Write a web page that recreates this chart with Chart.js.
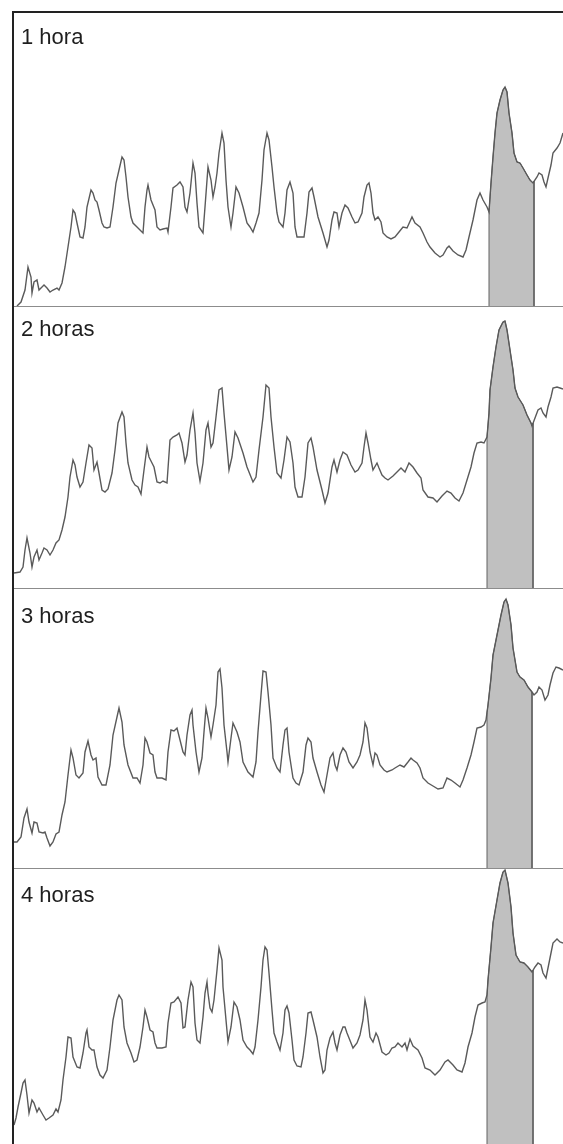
<!DOCTYPE html>
<html>
<head>
<meta charset="utf-8">
<script src="https://cdn.jsdelivr.net/npm/chart.js@4.4.1/dist/chart.umd.min.js"></script>
<style>
html, body { margin: 0; padding: 0; background: #fff; width: 563px; height: 1144px; overflow: hidden; }
.moldura-esq { position: absolute; left: 12px; top: 11px; width: 2px; height: 1200px; background: #222; }
.moldura-topo { position: absolute; left: 12px; top: 11px; width: 600px; height: 2px; background: #222; }
.divisor { position: absolute; left: 14px; width: 560px; height: 1px; background: #8c8c8c; }
canvas { position: absolute; left: 14px; }
.rotulo { position: absolute; left: 21px; font: 22px/22px "Liberation Sans", Arial, sans-serif; color: #1e1e1e; white-space: nowrap; }
</style>
</head>
<body>
<div class="moldura-esq"></div>
<div class="moldura-topo"></div>
<canvas id="g1" width="549" height="293" style="top:13px"></canvas>
<canvas id="g2" width="549" height="281" style="top:307px"></canvas>
<canvas id="g3" width="549" height="279" style="top:589px"></canvas>
<canvas id="g4" width="549" height="279" style="top:869px"></canvas>
<div class="divisor" style="top:306px"></div>
<div class="divisor" style="top:588px"></div>
<div class="divisor" style="top:868px"></div>
<script>
const titulos = ['1 hora', '2 horas', '3 horas', '4 horas'];

// [posição, valor]
const serie1h = [[3,0],[7,4],[11,16],[14,39],[17,29],[18,13],[20,24],[23,26],[25,16],[28,19],[30,21],[33,18],[36,14],[39,16],[43,18],[45,16],[48,23],[51,39],[54,59],[57,79],[59,96],[61,93],[63,83],[66,69],[69,68],[71,79],[73,99],[77,116],[79,113],[81,106],[83,104],[85,96],[88,83],[90,79],[93,78],[96,79],[99,99],[102,123],[105,136],[108,149],[110,146],[112,129],[114,109],[117,89],[119,83],[123,79],[126,76],[129,73],[131,99],[133,116],[134,121],[137,106],[139,101],[141,96],[143,79],[146,76],[149,77],[153,78],[154,74],[157,99],[159,118],[163,121],[166,124],[169,119],[171,99],[173,94],[176,113],[179,143],[181,133],[183,103],[185,79],[189,73],[191,99],[194,139],[197,126],[199,109],[201,119],[203,133],[205,153],[208,173],[210,163],[212,126],[214,99],[217,79],[219,93],[222,119],[225,113],[229,99],[233,83],[236,79],[239,74],[242,83],[245,93],[248,126],[250,156],[253,173],[255,166],[258,139],[260,119],[263,93],[265,84],[269,79],[271,93],[273,116],[276,124],[279,113],[281,79],[283,69],[288,69],[290,69],[293,93],[295,114],[298,118],[300,109],[304,89],[309,73],[313,59],[315,66],[318,86],[320,94],[323,93],[325,79],[328,93],[331,101],[334,98],[338,89],[341,83],[344,84],[348,93],[350,109],[353,121],[355,123],[357,113],[359,93],[361,86],[364,89],[367,84],[369,73],[373,69],[377,67],[381,69],[385,74],[389,79],[393,78],[398,89],[401,83],[406,79],[409,73],[413,64],[416,59],[421,53],[426,49],[429,51],[433,58],[435,60],[439,55],[444,51],[449,49],[452,56],[455,69],[459,86],[463,106],[466,113],[469,106],[473,99],[475,94],[477,123],[479,149],[481,173],[483,193],[486,206],[489,216],[491,219],[493,214],[495,193],[498,173],[500,153],[503,144],[506,143],[509,138],[513,131],[516,126],[519,123],[523,129],[525,133],[528,131],[530,124],[532,119],[534,128],[537,141],[539,153],[543,158],[546,163],[549,173]];

const serie2h = [[0,15],[6,16],[9,21],[11,38],[13,50],[16,35],[18,21],[20,31],[23,38],[25,28],[28,35],[30,40],[33,38],[36,33],[39,38],[42,45],[45,48],[48,58],[51,71],[54,91],[56,111],[59,128],[61,123],[63,111],[66,101],[69,106],[72,125],[75,143],[78,140],[80,118],[83,126],[85,115],[88,98],[91,96],[94,99],[98,115],[101,138],[104,165],[108,176],[110,171],[112,145],[114,125],[118,108],[121,103],[124,101],[127,94],[130,118],[133,141],[135,131],[138,125],[140,121],[143,106],[146,105],[149,107],[153,105],[156,148],[159,151],[163,153],[165,155],[168,145],[171,126],[173,133],[176,158],[179,175],[181,155],[183,125],[186,107],[189,125],[192,158],[194,165],[197,141],[199,145],[202,171],[205,198],[208,200],[210,175],[213,141],[215,118],[218,131],[221,156],[224,150],[229,135],[233,121],[237,111],[239,106],[242,111],[245,138],[249,171],[252,203],[255,200],[257,171],[260,141],[263,115],[267,110],[270,128],[273,151],[276,146],[279,125],[281,101],[284,91],[288,91],[291,111],[294,145],[297,150],[299,141],[303,118],[308,98],[311,85],[314,95],[318,121],[320,128],[323,116],[326,128],[329,136],[333,133],[337,123],[341,116],[344,118],[348,125],[350,141],[352,155],[354,145],[357,128],[359,118],[363,125],[365,120],[368,113],[371,110],[374,108],[379,112],[383,116],[387,120],[391,116],[395,125],[399,121],[403,115],[407,110],[409,98],[414,91],[419,90],[423,86],[428,92],[433,97],[437,95],[441,90],[445,87],[449,95],[453,108],[457,121],[460,135],[463,145],[467,146],[470,145],[473,151],[475,175],[476,198],[479,221],[482,241],[485,258],[489,266],[491,267],[493,258],[496,238],[499,218],[501,200],[504,191],[509,183],[513,173],[517,165],[518,162],[521,170],[524,178],[527,180],[529,175],[532,171],[534,181],[537,191],[539,200],[543,201],[546,200],[549,199]];

const serie3h = [[0,26],[3,26],[7,31],[10,50],[13,59],[15,46],[18,35],[20,46],[23,45],[25,36],[29,35],[31,36],[33,30],[36,22],[39,26],[42,34],[45,36],[48,53],[51,66],[54,93],[57,118],[59,110],[62,93],[65,90],[69,95],[71,116],[74,127],[77,113],[79,108],[82,110],[84,91],[88,83],[92,83],[96,103],[99,133],[103,151],[105,160],[108,146],[110,123],[114,103],[119,90],[123,90],[126,85],[129,103],[131,130],[133,126],[136,115],[139,113],[141,96],[143,90],[148,90],[152,88],[154,116],[157,138],[160,137],[163,140],[166,128],[169,116],[171,113],[173,133],[176,153],[178,158],[179,143],[182,116],[185,96],[188,110],[190,136],[192,160],[194,150],[197,131],[199,143],[202,163],[204,196],[206,199],[208,180],[210,143],[213,116],[214,106],[217,130],[219,145],[223,136],[226,126],[229,106],[234,96],[239,91],[242,106],[244,136],[247,173],[249,197],[252,196],[254,176],[257,143],[259,110],[263,100],[266,96],[269,123],[271,138],[273,140],[275,116],[279,90],[282,85],[285,83],[289,96],[292,123],[294,130],[297,126],[299,110],[303,96],[307,83],[310,76],[313,93],[316,110],[319,115],[321,103],[323,98],[326,113],[329,120],[332,116],[335,106],[339,100],[343,106],[346,113],[349,126],[351,145],[353,140],[356,116],[359,103],[361,115],[363,113],[366,103],[370,98],[373,96],[378,98],[381,100],[386,103],[390,101],[394,106],[397,110],[399,108],[403,105],[406,100],[409,90],[414,85],[419,82],[424,79],[429,80],[433,90],[437,88],[441,85],[446,81],[449,88],[453,100],[457,113],[460,126],[463,140],[467,141],[470,143],[472,148],[474,163],[477,190],[479,213],[483,233],[487,253],[490,266],[492,269],[494,263],[497,243],[499,220],[503,196],[506,191],[510,188],[514,181],[518,176],[520,173],[523,176],[525,181],[528,178],[531,168],[534,173],[536,183],[539,195],[542,201],[545,200],[549,198]];

const serie4h = [[0,23],[2,30],[4,41],[7,55],[9,65],[11,68],[13,53],[15,35],[18,48],[20,45],[23,36],[25,40],[29,33],[32,28],[35,30],[39,33],[42,39],[44,36],[47,48],[49,68],[52,91],[54,111],[57,110],[59,91],[63,81],[66,80],[69,95],[72,115],[73,118],[75,101],[78,98],[80,98],[83,81],[86,73],[89,70],[93,78],[96,101],[99,128],[103,148],[105,153],[108,148],[110,121],[113,105],[117,95],[120,86],[123,88],[126,101],[129,121],[131,138],[133,131],[136,118],[139,116],[141,105],[143,100],[148,100],[152,101],[154,125],[157,145],[160,146],[164,151],[167,145],[169,120],[171,121],[174,148],[177,166],[179,161],[181,125],[183,108],[186,105],[189,131],[191,155],[193,166],[194,155],[196,140],[198,136],[200,148],[203,178],[205,200],[208,188],[209,161],[212,128],[214,106],[217,121],[220,146],[223,141],[226,128],[229,108],[233,101],[236,98],[239,94],[241,101],[244,128],[247,161],[249,188],[251,201],[253,198],[255,175],[258,138],[260,115],[263,106],[266,98],[269,115],[271,138],[273,142],[275,135],[278,108],[280,88],[283,82],[287,81],[289,91],[292,115],[294,135],[297,136],[299,128],[303,111],[306,91],[309,75],[311,78],[313,98],[316,110],[319,116],[321,105],[323,98],[326,113],[329,121],[331,121],[333,115],[337,105],[339,100],[343,105],[346,113],[349,128],[351,148],[353,138],[356,111],[359,106],[362,115],[364,111],[368,96],[372,93],[375,95],[378,100],[381,101],[384,105],[388,101],[391,105],[393,98],[396,109],[399,102],[404,98],[408,90],[411,80],[416,78],[421,73],[426,78],[431,86],[434,88],[439,83],[443,78],[448,76],[451,85],[454,101],[458,115],[461,131],[464,143],[468,145],[471,146],[473,153],[474,168],[477,201],[479,225],[483,248],[486,265],[489,276],[491,278],[494,265],[497,241],[499,215],[502,193],[506,186],[510,185],[514,181],[518,176],[521,181],[524,185],[527,183],[529,175],[532,170],[534,180],[537,195],[539,205],[543,209],[546,206],[549,205]];

// início e fim da faixa sombreada de cada painel
const faixas = [[475, 520], [473, 519], [473, 518], [473, 519]];

const paineis = [
    { id: 'g1', serie: serie1h, maxY: 293, rotuloTopo: 26 },
    { id: 'g2', serie: serie2h, maxY: 281, rotuloTopo: 318 },
    { id: 'g3', serie: serie3h, maxY: 279, rotuloTopo: 605 },
    { id: 'g4', serie: serie4h, maxY: 279, rotuloTopo: 884 }
];

function valorEm(serie, x) {
    for (let i = 1; i < serie.length; i++) {
        const [x0, y0] = serie[i - 1];
        const [x1, y1] = serie[i];
        if (x >= x0 && x <= x1) {
            return x1 === x0 ? y1 : y0 + (y1 - y0) * (x - x0) / (x1 - x0);
        }
    }
    return 0;
}

paineis.forEach((p, i) => {
    const [ini, fim] = faixas[i];
    const linha = p.serie.map(d => ({ x: d[0], y: d[1] }));
    const area = [{ x: ini, y: 0 }, { x: ini, y: valorEm(p.serie, ini) }]
        .concat(p.serie.filter(d => d[0] > ini && d[0] < fim).map(d => ({ x: d[0], y: d[1] })))
        .concat([{ x: fim, y: valorEm(p.serie, fim) }, { x: fim, y: 0 }]);

    new Chart(document.getElementById(p.id).getContext('2d'), {
        type: 'line',
        data: {
            datasets: [{
                data: linha,
                borderColor: '#5a5a5a',
                borderWidth: 1.4,
                pointRadius: 0,
                tension: 0,
                fill: false,
                order: 1
            }, {
                data: area,
                borderColor: '#626262',
                borderWidth: 1,
                backgroundColor: '#c0c0c0',
                pointRadius: 0,
                tension: 0,
                fill: 'origin',
                order: 2
            }]
        },
        options: {
            responsive: false,
            animation: false,
            devicePixelRatio: 1,
            layout: { padding: 0 },
            scales: {
                x: { type: 'linear', display: false, min: 0, max: 549 },
                y: { type: 'linear', display: false, min: 0, max: p.maxY }
            },
            plugins: {
                legend: { display: false },
                tooltip: { enabled: false }
            }
        }
    });

    const rotulo = document.createElement('div');
    rotulo.className = 'rotulo';
    rotulo.style.top = p.rotuloTopo + 'px';
    rotulo.textContent = titulos[i];
    document.body.appendChild(rotulo);
});
</script>
</body>
</html>
